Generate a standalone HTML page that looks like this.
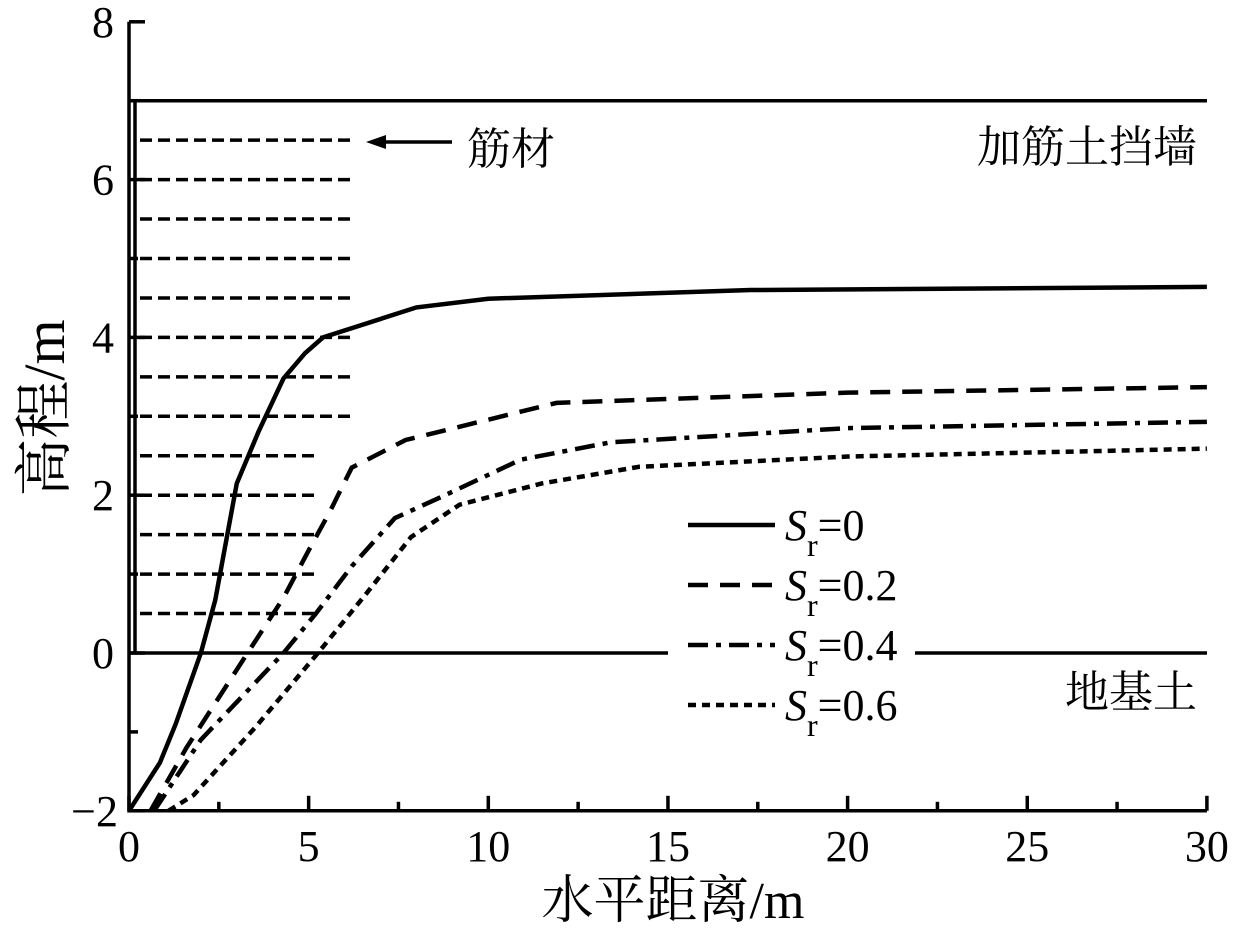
<!DOCTYPE html>
<html><head><meta charset="utf-8"><style>
body{margin:0;background:#fff}
svg text{font-family:"Liberation Serif","Noto Serif CJK SC",serif;fill:#000}
</style></head><body>
<svg id="c" width="1235" height="934" xmlns="http://www.w3.org/2000/svg"></svg>
<script>
const xTicks=[0,5,10,15,20,25,30];
const yTicks=[-2,0,2,4,6,8];
const reinfLevels=[0.5,1,1.5,2,2.5,3,3.5,4,4.5,5,5.5,6,6.5];
const reinfLength=[5.2,5.2,5.2,5.2,5.2,6.3,6.3,6.3,6.3,6.3,6.3,6.3,6.3];
const s0x=[0,0.86,1.3,2.0,2.4,3.0,3.6,4.3,4.9,5.4,8,10,17.3,30];
const s0y=[-2,-1.39,-0.9,0,0.67,2.15,2.8,3.48,3.8,4.0,4.38,4.49,4.6,4.64];
const s2x=[0.6,1.6,3.3,4.3,5.0,5.6,6.2,7.7,11.9,20,30];
const s2y=[-2,-1.2,0,0.7,1.3,1.8,2.35,2.7,3.17,3.3,3.37];
const s4x=[0.7,2.0,4.3,5.2,6.2,7.4,8.7,10.9,13.4,20,30];
const s4y=[-2,-1.1,0,0.5,1.1,1.71,1.98,2.45,2.67,2.85,2.93];
const s6x=[1.1,1.8,3.5,5.26,6.6,7.85,9.2,11.5,14.2,20,30];
const s6y=[-2,-1.8,-0.95,0,0.75,1.47,1.88,2.15,2.36,2.49,2.59];
const seriesLabels=["0","0.2","0.4","0.6"];
const X=v=>129+35.93*v, Y=v=>653-78.9*v;
const svg=document.getElementById('c');
function el(t,a,txt){const e=document.createElementNS('http://www.w3.org/2000/svg',t);for(const k in a)e.setAttribute(k,a[k]);if(txt!==undefined)e.textContent=txt;svg.appendChild(e);return e;}
let e;
reinfLevels.forEach((lv,i)=>{e=el('line',{x1:140,x2:X(reinfLength[i]),y1:Y(lv),y2:Y(lv),stroke:'#000','stroke-width':3.5,'stroke-dasharray':'12 6'});

});
e=el('line',{x1:135,x2:135,y1:Y(7),y2:Y(0),stroke:'#000','stroke-width':3.5});


e=el('line',{x1:129,x2:1207,y1:Y(7),y2:Y(7),stroke:'#000','stroke-width':3.5});


e=el('line',{x1:129,x2:1207,y1:Y(0),y2:Y(0),stroke:'#000','stroke-width':3.5});


e=el('path',{d:`M${X(0)} ${Y(8)} V${Y(-2)} H${X(30)}`,stroke:'#000','stroke-width':3.5,fill:'none'});


yTicks.forEach(v=>{el('line',{x1:129,x2:145,y1:Y(v),y2:Y(v),stroke:'#000','stroke-width':3.5});
if(v<8)el('line',{x1:129,x2:138,y1:Y(v+1),y2:Y(v+1),stroke:'#000','stroke-width':3.5});
e=el('text',{x:v<0?118:114,y:Y(v)+15,'font-size':44,'text-anchor':'end'},v<0?'−2':String(v));

});
xTicks.forEach(v=>{el('line',{x1:X(v),x2:X(v),y1:Y(-2),y2:Y(-2)-15,stroke:'#000','stroke-width':3.5});
if(v<30)el('line',{x1:X(v+2.5),x2:X(v+2.5),y1:Y(-2),y2:Y(-2)-9,stroke:'#000','stroke-width':3.5});
e=el('text',{x:X(v),y:861,'font-size':44,'text-anchor':'middle'},String(v));

});
const dashes=['','20 12','20 8 5 8','8 6'];
[[s0x,s0y],[s2x,s2y],[s4x,s4y],[s6x,s6y]].forEach((s,i)=>{
const d=s[0].map((x,j)=>(j?'L':'M')+X(x)+' '+Y(s[1][j])).join(' ');
e=el('path',{d,fill:'none',stroke:'#000','stroke-width':4.5,'stroke-dasharray':dashes[i]});

});
el('rect',{x:668,y:500,width:247,height:230,fill:'#fff'});
seriesLabels.forEach((l,i)=>{const y=525+60*i;
e=el('line',{x1:688,x2:775,y1:y,y2:y,stroke:'#000','stroke-width':4.5,'stroke-dasharray':dashes[i]});


e=el('text',{x:785,y:y+15,'font-size':44});
e.innerHTML='<tspan font-style="italic">S</tspan><tspan font-size="32" dy="16">r</tspan><tspan dy="-16">='+l+'</tspan>';

});
e=el('text',{x:1197,y:162,'font-size':44,'text-anchor':'end'},'加筋土挡墙');


e=el('text',{x:1197,y:707,'font-size':44,'text-anchor':'end'},'地基土');


e=el('text',{x:467,y:164,'font-size':44},'筋材');


e=el('line',{x1:452,x2:380,y1:142,y2:142,stroke:'#000','stroke-width':3.5});


el('path',{d:'M366 142 L386 135 L386 149 Z',fill:'#000'});
e=el('text',{x:673,y:918,'font-size':52,'text-anchor':'middle'},'水平距离/m');


e=el('text',{x:0,y:0,'font-size':58,'text-anchor':'middle',transform:'translate(64,408) rotate(-90)'},'高程/m');


</script>
</body></html>
